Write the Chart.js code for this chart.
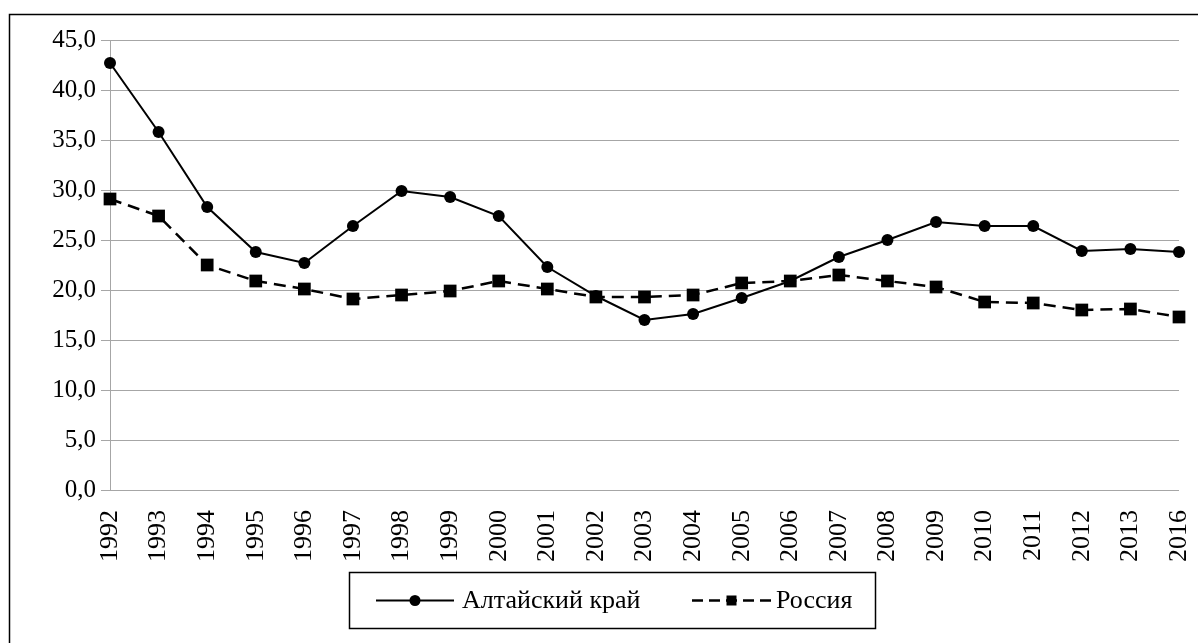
<!DOCTYPE html>
<html>
<head>
<meta charset="utf-8">
<script src="https://cdn.jsdelivr.net/npm/chart.js@4/dist/chart.umd.min.js"></script>
<style>
  html, body { margin: 0; padding: 0; background: #fff; }
  #wrap { width: 1198px; height: 643px; }
</style>
</head>
<body>
<div id="wrap"><canvas id="chart" width="1198" height="643"></canvas></div>
<script>
// years on the x axis (note the jump 2013 -> 2016)
const years = ['1992', '1993', '1994', '1995', '1996', '1997', '1998', '1999', '2000', '2001', '2002',
  '2003', '2004', '2005', '2006', '2007', '2008', '2009', '2010', '2011', '2012', '2013', '2016'];

const altaiValues = [42.7, 35.8, 28.3, 23.8, 22.7, 26.4, 29.9, 29.3, 27.4, 22.3, 19.4,
  17.0, 17.6, 19.2, 20.9, 23.3, 25.0, 26.8, 26.4, 26.4, 23.9, 24.1, 23.8];

const russiaValues = [29.1, 27.4, 22.5, 20.9, 20.1, 19.1, 19.5, 19.9, 20.9, 20.1, 19.3,
  19.3, 19.5, 20.7, 20.9, 21.5, 20.9, 20.3, 18.8, 18.7, 18.0, 18.1, 17.3];

const seriesNames = ['Алтайский край', 'Россия'];

const FONT = "'Liberation Serif', 'Times New Roman', serif";

// white background + frame round the whole picture
const framePlugin = {
  id: 'frame',
  beforeDraw(chart) {
    const ctx = chart.ctx;
    ctx.save();
    ctx.fillStyle = '#fff';
    ctx.fillRect(0, 0, chart.width, chart.height);
    ctx.strokeStyle = '#000';
    ctx.lineWidth = 1.5;
    ctx.strokeRect(9.5, 14.5, chart.width + 20, chart.height + 20);
    ctx.restore();
  }
};

// boxed legend under the axis, line + marker samples like the original
const boxLegend = {
  id: 'boxLegend',
  afterDraw(chart) {
    const ctx = chart.ctx;
    const box = { x: 349.5, y: 572.5, w: 526, h: 56 };
    const cy = box.y + box.h / 2;
    ctx.save();
    ctx.strokeStyle = '#000';
    ctx.lineWidth = 1.5;
    ctx.strokeRect(box.x, box.y, box.w, box.h);

    const items = [
      { x0: 376, x1: 454, tx: 462, dash: [] },
      { x0: 692, x1: 771, tx: 776, dash: [11, 6] }
    ];
    chart.data.datasets.forEach((ds, i) => {
      const it = items[i];
      const mx = (it.x0 + it.x1) / 2;
      ctx.strokeStyle = ds.borderColor;
      ctx.lineWidth = ds.borderWidth;
      ctx.setLineDash(it.dash);
      ctx.beginPath();
      ctx.moveTo(it.x0, cy);
      ctx.lineTo(it.x1, cy);
      ctx.stroke();
      ctx.setLineDash([]);
      ctx.fillStyle = '#000';
      ctx.beginPath();
      if (ds.pointStyle === 'circle') {
        ctx.arc(mx, cy, 5.5, 0, Math.PI * 2);
      } else {
        ctx.rect(mx - 5, cy - 5, 10, 10);
      }
      ctx.fill();
      ctx.font = '26px ' + FONT;
      ctx.textBaseline = 'middle';
      ctx.textAlign = 'left';
      ctx.fillText(ds.label, it.tx, cy + 1);
    });
    ctx.restore();
  }
};

new Chart(document.getElementById('chart').getContext('2d'), {
  type: 'line',
  data: {
    labels: years,
    datasets: [
      {
        label: seriesNames[0],
        data: altaiValues,
        borderColor: '#000',
        backgroundColor: '#000',
        borderWidth: 2,
        pointStyle: 'circle',
        pointRadius: 6,
        pointBorderWidth: 0,
        tension: 0
      },
      {
        label: seriesNames[1],
        data: russiaValues,
        borderColor: '#000',
        backgroundColor: '#000',
        borderWidth: 2.5,
        borderDash: [12, 7],
        pointStyle: 'rect',
        pointRadius: 9,
        pointBorderWidth: 0,
        tension: 0
      }
    ]
  },
  options: {
    responsive: false,
    animation: false,
    layout: { padding: { top: 40, right: 19, left: 0, bottom: 0 } },
    plugins: {
      legend: { display: false },
      tooltip: { enabled: false }
    },
    scales: {
      x: {
        offset: false,
        grid: { display: false },
        border: { display: false },
        ticks: {
          color: '#000',
          font: { family: FONT, size: 26 },
          minRotation: 90,
          maxRotation: 90,
          autoSkip: false,
          padding: 12
        },
        afterFit(scale) {
          scale.height = 153;
          scale.paddingLeft = 0;
          scale.paddingRight = 0;
        }
      },
      y: {
        min: 0,
        max: 45,
        grid: { color: '#a6a6a6', lineWidth: 1, tickLength: 9 },
        border: { display: true, color: '#a6a6a6', width: 1 },
        ticks: {
          stepSize: 5,
          color: '#000',
          font: { family: FONT, size: 25 },
          padding: 5,
          callback: v => v.toFixed(1).replace('.', ',')
        },
        afterFit(scale) {
          scale.width = 110;
          scale.paddingTop = 0;
          scale.paddingBottom = 0;
        }
      }
    }
  },
  plugins: [framePlugin, boxLegend]
});
</script>
</body>
</html>
